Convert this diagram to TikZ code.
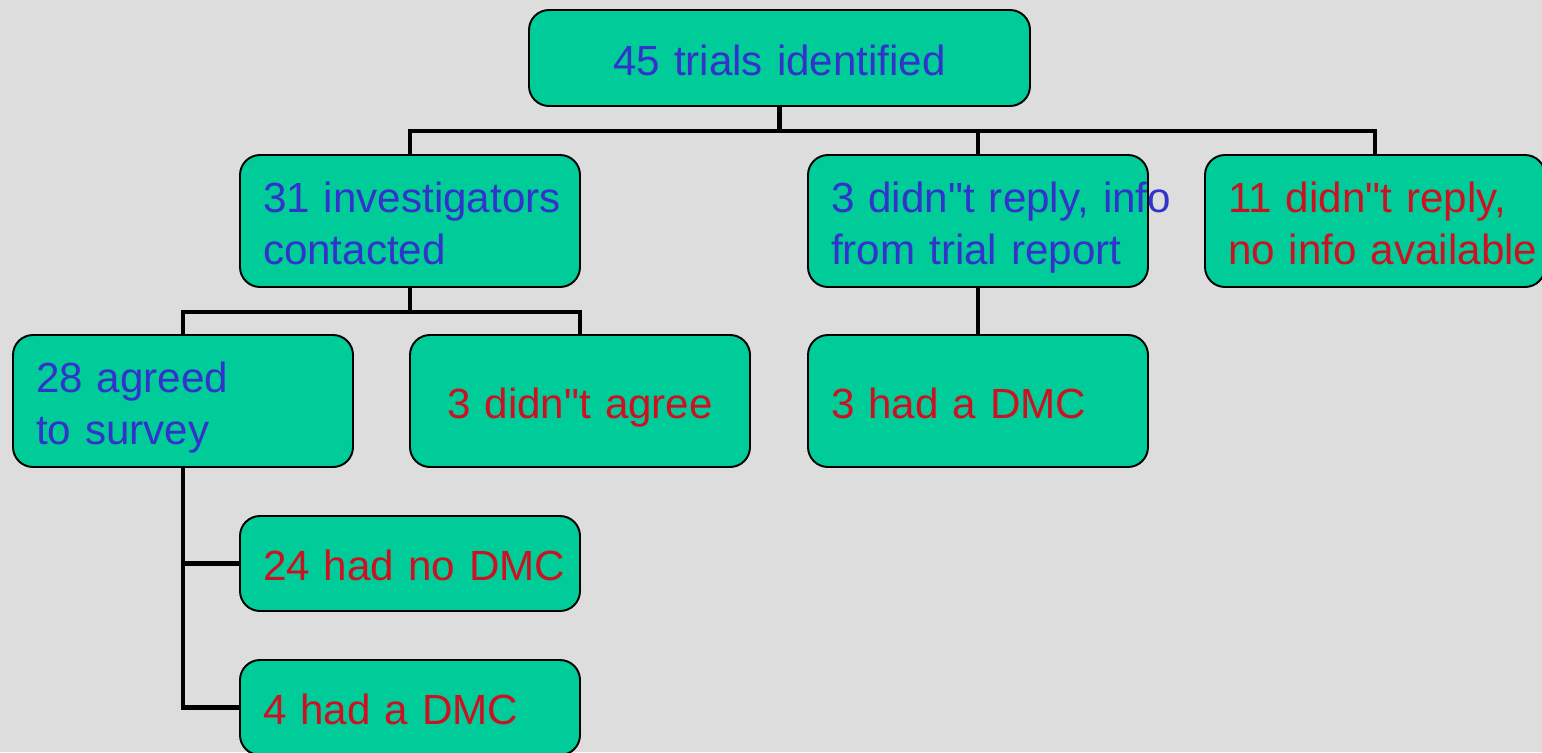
\documentclass[tikz,border=0pt]{standalone}
\usepackage{fontspec}
\setmainfont{Liberation Sans}[Ligatures=TeXOff]
\usepackage{xcolor}
\usepackage{tikz}
\usetikzlibrary{positioning}

\definecolor{bggrey}{RGB}{221,221,221}
\definecolor{boxgreen}{RGB}{0,204,153}
\definecolor{txtblue}{RGB}{51,51,204}
\definecolor{txtred}{RGB}{204,17,34}
\newcommand{\bxstrut}{\rule[-5pt]{0pt}{29.4pt}}

\begin{document}
\begin{tikzpicture}[every node/.style={font=\fontsize{24}{29.6}\selectfont}]
  \tikzset{box/.style={draw, fill=boxgreen, line width=1.1pt, rounded corners=0.4cm,
      minimum height=2.64cm, inner xsep=0.46cm, text width=5.88cm, align=left,
      execute at begin node=\bxstrut, execute at end node=\bxstrut},
    link/.style={line width=2.8pt}}
  \fill[bggrey] (0,0) rectangle (30.84,-15.04);
  \useasboundingbox (0,0) rectangle (30.84,-15.04);
  \node[box, text=txtblue, text width=9.1cm, align=center, minimum height=1.92cm] (top) at (15.59,-1.16) {45 trials identified};
  \node[box, text=txtblue] (inv) at (8.2,-4.42) {\mbox{31 investigators}\\contacted};
  \node[box, text=txtblue] (rep) at (19.56,-4.42) {\mbox{3 didn"t reply, info}\\from trial report};
  \node[box, text=txtred]  (noinfo) at (27.5,-4.42) {11 didn"t reply,\\\mbox{no info available}};
  \node[box, text=txtblue] (agr) at (3.66,-8.02) {28 agreed\\to survey};
  \node[box, text=txtred, align=center] (dis) at (11.6,-8.02) {3 didn"t agree};
  \node[box, text=txtred]  (dmcr) at (19.56,-8.02) {3 had a DMC};
  \node[box, text=txtred, minimum height=1.9cm] (nodmc) at (8.2,-11.27) {\mbox{24 had no DMC}};
  \node[box, text=txtred, minimum height=1.9cm] (dmca) at (8.2,-14.15) {4 had a DMC};
  \draw[link] (top.south) -- ++(0,-0.48) -| (inv.north);
  \draw[link] (top.south) -- ++(0,-0.48) -| (rep.north);
  \draw[link] (top.south) -- ++(0,-0.48) -| (noinfo.north);
  \draw[link] (inv.south) -- ++(0,-0.48) -| (agr.north);
  \draw[link] (inv.south) -- ++(0,-0.48) -| (dis.north);
  \draw[link] (rep.south) -- (dmcr.north);
  \draw[link] (agr.south) |- (nodmc.west);
  \draw[link] (agr.south) |- (dmca.west);
\end{tikzpicture}
\end{document}
